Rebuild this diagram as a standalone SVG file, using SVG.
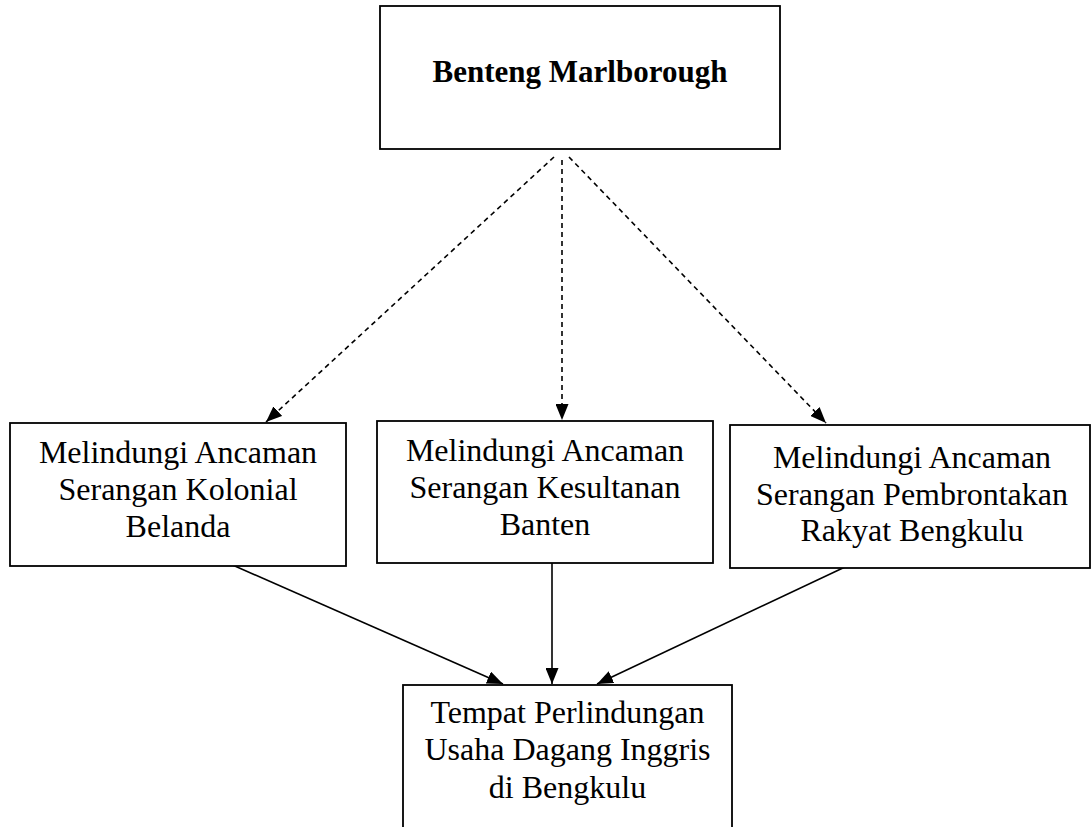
<svg xmlns="http://www.w3.org/2000/svg" width="1092" height="827" viewBox="0 0 1092 827">
<style>
.box{fill:#fff;stroke:#000;stroke-width:1.8}
.t{font-family:"Liberation Serif","Times New Roman",serif;font-size:32px;fill:#000;text-anchor:middle}
.tb{font-family:"Liberation Serif","Times New Roman",serif;font-size:31px;font-weight:bold;fill:#000;text-anchor:middle}
.dash{stroke:#000;stroke-width:1.6;fill:none;stroke-dasharray:5,4}
.solid{stroke:#000;stroke-width:1.6;fill:none}
</style>
<defs>
<marker id="ah" markerUnits="userSpaceOnUse" markerWidth="16" markerHeight="13" viewBox="0 0 16 13" refX="16" refY="6.5" orient="auto">
<path d="M0,0 L16,6.5 L0,13 z" fill="#000"/>
</marker>
</defs>
<rect width="1092" height="827" fill="#fff"/>
<g id="connectors">
<line class="dash" x1="554" y1="157" x2="266" y2="422" marker-end="url(#ah)"/>
<line class="dash" x1="562" y1="160" x2="562" y2="420" marker-end="url(#ah)"/>
<line class="dash" x1="569" y1="157" x2="826" y2="423" marker-end="url(#ah)"/>
<line class="solid" x1="228" y1="563" x2="503" y2="684" marker-end="url(#ah)"/>
<line class="solid" x1="552" y1="563" x2="552" y2="684" marker-end="url(#ah)"/>
<line class="solid" x1="845" y1="567" x2="597" y2="684" marker-end="url(#ah)"/>
</g>
<g id="node-top">
<rect class="box" x="380" y="6" width="400" height="143"/>
<text class="tb" x="580" y="82">Benteng Marlborough</text>
</g>
<g id="node-left">
<rect class="box" x="10" y="423" width="336" height="143"/>
<text class="t" x="178" y="463">Melindungi Ancaman</text>
<text class="t" x="178" y="500">Serangan Kolonial</text>
<text class="t" x="178" y="537">Belanda</text>
</g>
<g id="node-middle">
<rect class="box" x="377" y="421" width="336" height="142"/>
<text class="t" x="545" y="461">Melindungi Ancaman</text>
<text class="t" x="545" y="498">Serangan Kesultanan</text>
<text class="t" x="545" y="535">Banten</text>
</g>
<g id="node-right">
<rect class="box" x="730" y="425" width="360" height="143"/>
<text class="t" x="912" y="468">Melindungi Ancaman</text>
<text class="t" x="912" y="505">Serangan Pembrontakan</text>
<text class="t" x="912" y="541">Rakyat Bengkulu</text>
</g>
<g id="node-bottom">
<rect class="box" x="403" y="685" width="329" height="160"/>
<text class="t" x="567.5" y="723">Tempat Perlindungan</text>
<text class="t" x="567.5" y="760">Usaha Dagang Inggris</text>
<text class="t" x="567.5" y="798">di Bengkulu</text>
</g>
</svg>
